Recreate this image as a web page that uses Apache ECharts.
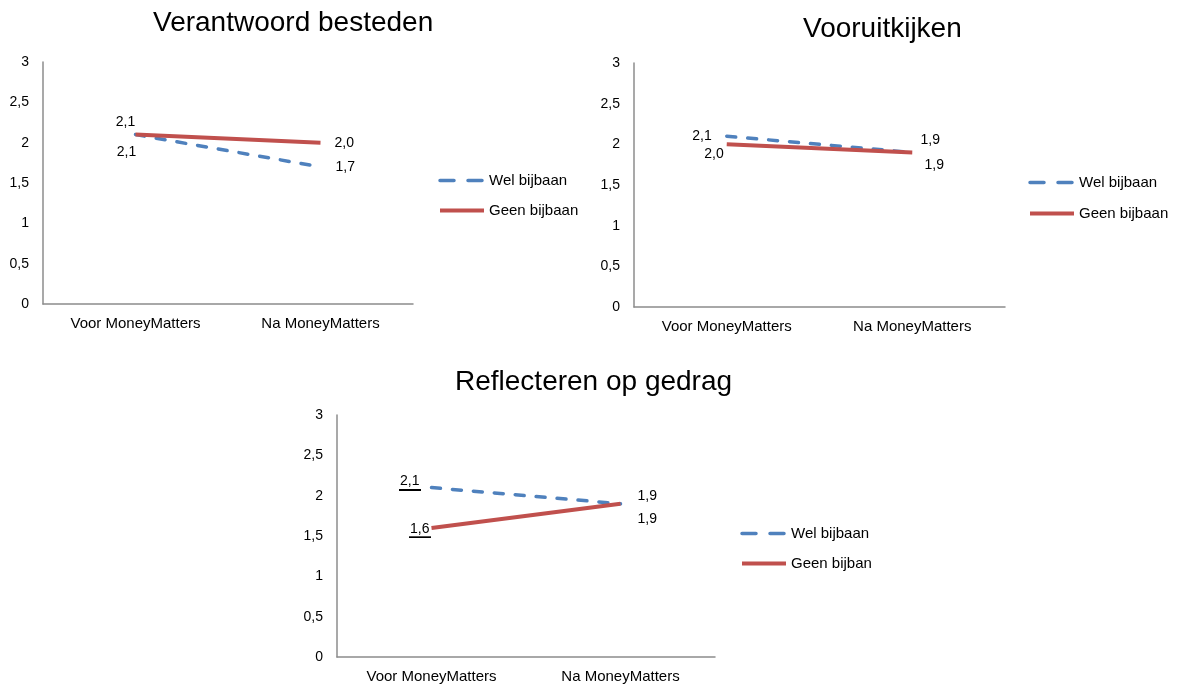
<!DOCTYPE html>
<html>
<head>
<meta charset="utf-8">
<title>MoneyMatters</title>
<script src="https://cdn.jsdelivr.net/npm/echarts@6/dist/echarts.min.js"></script>
<style>
  html, body { margin: 0; padding: 0; background: #fff; }
  #main { width: 1181px; height: 688px; }
</style>
</head>
<body>
<div id="main"></div>
<script>
var categories = ['Voor MoneyMatters', 'Na MoneyMatters'];
var titles = ['Verantwoord besteden', 'Vooruitkijken', 'Reflecteren op gedrag'];
var welNames = ['Wel bijbaan', 'Wel bijbaan', 'Wel bijbaan'];
var geenNames = ['Geen bijbaan', 'Geen bijbaan', 'Geen bijban'];
var welData = [[2.1, 1.7], [2.1, 1.9], [2.1, 1.9]];
var geenData = [[2.1, 2.0], [2.0, 1.9], [1.6, 1.9]];
var yMin = 0, yMax = 3, yStep = 0.5;

// layout of the three panels
var grids = [
  {left: 43, top: 62, width: 370, height: 242},
  {left: 634, top: 63, width: 371, height: 244},
  {left: 337, top: 415, width: 378, height: 242}
];
var titlePos = [[153, 7], [803, 13], [455, 366]];
var legendPos = [[438, 173, 15], [1028, 175, 16], [740, 526, 15]];

// data label placement per panel: [voor, na] for wel and geen
var welLabels = [
  [{position: 'bottom', offset: [-9, 6]}, {position: 'right', distance: 15}],
  [{position: 'left', distance: 15}, {position: 'top', offset: [18, 0]}],
  [{position: 'left', distance: 11, offset: [0, -5], ul: true}, {position: 'right', distance: 17, offset: [0, -8]}]
];
var geenLabels = [
  [{position: 'top', offset: [-10, 0]}, {position: 'right', distance: 14}],
  [{position: 'left', distance: 3, offset: [0, 10]}, {position: 'bottom', offset: [22, 1]}],
  [{position: 'left', distance: 1, offset: [0, 2], ul: true}, {position: 'right', distance: 17, offset: [0, 15]}]
];

var BLUE = '#4F81BD', RED = '#C0504D', AXIS = '#8c8c8c', FONT = 'Liberation Sans';

function oneDec(v) {
  return v.toFixed(1).replace('.', ',');
}

// small underline image for underlined labels
var ul = document.createElement('canvas');
ul.width = 4; ul.height = 20;
var ctx = ul.getContext('2d');
ctx.fillStyle = '#000';
ctx.fillRect(0, 18, 4, 2);

function points(vals, labels) {
  return vals.map(function (v, i) {
    var l = labels[i];
    var lab = {position: l.position, offset: l.offset || [0, 0]};
    if (l.distance != null) lab.distance = l.distance;
    if (l.ul) {
      lab.formatter = function (p) { return '{u|' + oneDec(p.value) + '}'; };
    }
    return {value: v, label: lab};
  });
}

var labelBase = {
  show: true,
  color: '#000',
  fontFamily: FONT,
  fontSize: 14,
  formatter: function (p) { return oneDec(p.value); },
  rich: {
    u: {
      color: '#000', fontFamily: FONT, fontSize: 14,
      backgroundColor: {image: ul},
      padding: [0, 1, 2, 1]
    }
  }
};

var option = {
  animation: false,
  title: [],
  legend: [],
  grid: [],
  xAxis: [],
  yAxis: [],
  series: []
};

for (var k = 0; k < 3; k++) {
  option.title.push({
    text: titles[k],
    left: titlePos[k][0],
    top: titlePos[k][1],
    padding: 0,
    textStyle: {fontFamily: FONT, fontSize: 28, fontWeight: 'normal', color: '#000', lineHeight: 32}
  });
  option.grid.push(grids[k]);
  option.xAxis.push({
    type: 'category',
    gridIndex: k,
    data: categories,
    boundaryGap: true,
    axisLine: {lineStyle: {color: AXIS, width: 1.5}},
    axisTick: {show: false},
    axisLabel: {color: '#000', fontFamily: FONT, fontSize: 15, margin: 12}
  });
  option.yAxis.push({
    type: 'value',
    gridIndex: k,
    min: yMin, max: yMax, interval: yStep,
    axisLine: {show: true, lineStyle: {color: AXIS, width: 1.5}},
    axisTick: {show: false},
    splitLine: {show: false},
    axisLabel: {
      color: '#000', fontFamily: FONT, fontSize: 14, margin: 14,
      formatter: function (v) { return String(v).replace('.', ','); }
    }
  });
  option.legend.push({
    orient: 'vertical',
    left: legendPos[k][0],
    top: legendPos[k][1],
    padding: 0,
    itemGap: legendPos[k][2],
    itemWidth: 44,
    itemHeight: 14,
    itemStyle: {opacity: 0},
    textStyle: {fontFamily: FONT, fontSize: 15, color: '#000'},
    data: [
      {name: welNames[k], lineStyle: {type: [14, 14], cap: 'round', width: 3.5}},
      {name: geenNames[k], lineStyle: {width: 4}}
    ]
  });
  option.series.push({
    name: welNames[k],
    type: 'line',
    xAxisIndex: k,
    yAxisIndex: k,
    symbol: 'circle',
    symbolSize: 0,
    color: BLUE,
    lineStyle: {color: BLUE, width: 3.5, type: [9, 12], cap: 'round'},
    label: labelBase,
    data: points(welData[k], welLabels[k]),
    z: 2
  });
  option.series.push({
    name: geenNames[k],
    type: 'line',
    xAxisIndex: k,
    yAxisIndex: k,
    symbol: 'circle',
    symbolSize: 0,
    color: RED,
    lineStyle: {color: RED, width: 4},
    label: labelBase,
    data: points(geenData[k], geenLabels[k]),
    z: 3
  });
}

var chart = echarts.init(document.getElementById('main'));
chart.setOption(option);
</script>
</body>
</html>
